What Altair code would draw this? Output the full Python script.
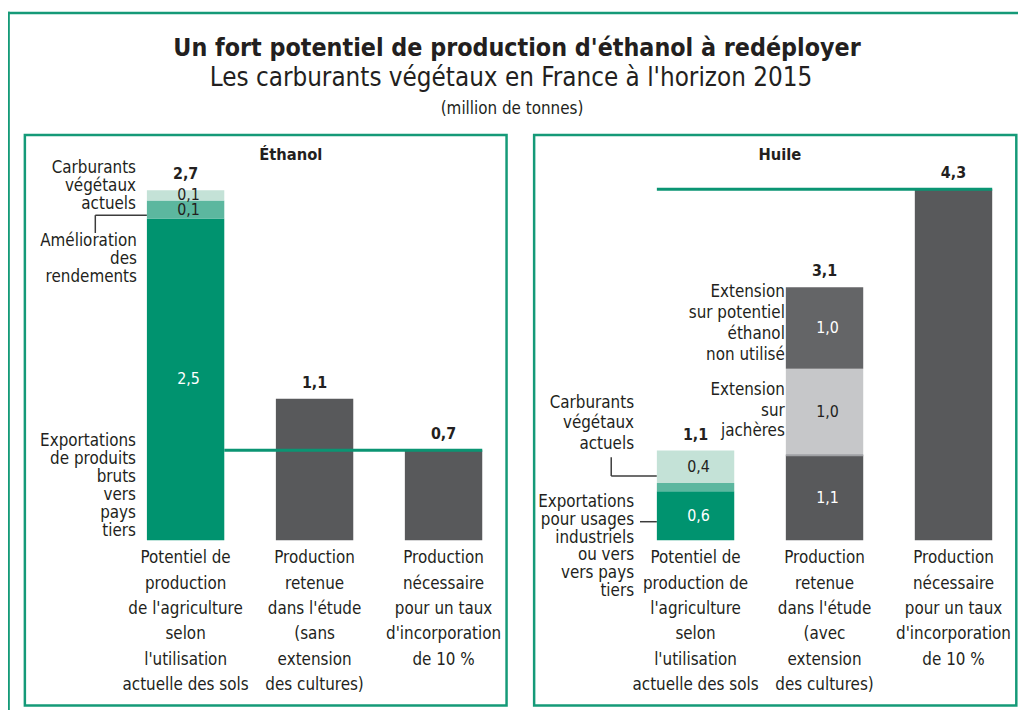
import altair as alt
import pandas as pd

FONT = "DejaVu Sans Condensed"
INK = "#231f20"
FRAME = "#159a78"
GREEN_LINE = "#0b9573"

# ---------------- data ----------------
title = "Un fort potentiel de production d'éthanol à redéployer"
subtitle = "Les carburants végétaux en France à l'horizon 2015"
unit = "(million de tonnes)"

eth_title = "Éthanol"
eth_cats = [
    "Potentiel de\nproduction\nde l'agriculture\nselon\nl'utilisation\nactuelle des sols",
    "Production\nretenue\ndans l'étude\n(sans\nextension\ndes cultures)",
    "Production\nnécessaire\npour un taux\nd'incorporation\nde 10 %",
]
eth_seg_bar = [0, 0, 0, 1, 2]
eth_seg_name = ["Exportations", "Amélioration des rendements", "Carburants végétaux actuels",
                "Production", "Production"]
eth_seg_value = [2.5, 0.14, 0.08, 1.1, 0.7]
eth_seg_label = ["2,5", "0,1", "0,1", "", ""]
eth_total_label = ["2,7", "1,1", "0,7"]

oil_title = "Huile"
oil_cats = [
    "Potentiel de\nproduction de\nl'agriculture\nselon\nl'utilisation\nactuelle des sols",
    "Production\nretenue\ndans l'étude\n(avec\nextension\ndes cultures)",
    "Production \nnécessaire\npour un taux\nd'incorporation\nde 10 %",
]
oil_seg_bar = [0, 0, 0, 1, 1, 1, 2]
oil_seg_name = ["Exportations", "Amélioration des rendements", "Carburants végétaux actuels",
                "Production", "Extension sur jachères",
                "Extension sur potentiel éthanol non utilisé", "Production"]
oil_seg_value = [0.6, 0.1, 0.4, 1.04, 1.06, 1.0, 4.3]
oil_seg_label = ["0,6", "", "0,4", "1,1", "1,0", "1,0", ""]
oil_total_label = ["1,1", "3,1", "4,3"]

# ---------------- styles ----------------
seg_domain = ["Exportations", "Amélioration des rendements", "Carburants végétaux actuels",
              "Production", "Extension sur jachères", "Extension sur potentiel éthanol non utilisé"]
seg_range = ["#00936f", "#5cb79f", "#c4e2d7", "#58595b", "#c6c7c9", "#646567"]
seg_tone = {"Exportations": "light", "Amélioration des rendements": "dark",
            "Carburants végétaux actuels": "dark", "Production": "light",
            "Extension sur jachères": "dark",
            "Extension sur potentiel éthanol non utilisé": "light"}
cscale = alt.Scale(domain=seg_domain, range=seg_range)


def seg_table(cats, bars, names, values, labels):
    rows, top = [], {}
    for b, n, v, l in zip(bars, names, values, labels):
        s = top.get(b, 0.0)
        e = s + v
        top[b] = e
        rows.append(dict(cat=cats[b], segment=n, start=s, end=e, mid=(s + e) / 2,
                         label=l, tone=seg_tone[n]))
    seg = pd.DataFrame(rows)
    tot = pd.DataFrame(dict(cat=cats, total=[top[i] for i in range(len(cats))]))
    return seg, tot


def panel(cats, bars, names, values, labels, totals, x_range, y_max, y_base, ppu,
          rule_from, rule_to):
    seg, tot = seg_table(cats, bars, names, values, labels)
    tot["label"] = totals
    xs = alt.Scale(domain=cats, range=x_range, paddingInner=0.4, paddingOuter=0)
    ys = alt.Scale(domain=[0, y_max], range=[y_base, y_base - y_max * ppu], nice=False, zero=False)
    X = alt.X("cat:N", scale=xs, axis=None)
    layers = []
    layers.append(alt.Chart(seg).mark_bar().encode(
        x=X, y=alt.Y("start:Q", scale=ys, axis=None), y2="end:Q",
        color=alt.Color("segment:N", scale=cscale, legend=None)))
    # thin separator between stacked grey segments
    layers.append(alt.Chart(seg).transform_filter(alt.datum.segment == "Extension sur jachères")
                  .mark_rule(color="#9fa1a4", strokeWidth=2).encode(
        x=alt.X("cat:N", scale=xs, axis=None, bandPosition=0),
        x2=alt.X2("cat:N", bandPosition=1),
        y=alt.Y("start:Q", scale=ys, axis=None)))
    # green reference line at the level of the required production
    rule_df = pd.DataFrame(dict(a=[cats[0]], b=[cats[2]], level=[tot["total"].iloc[2]]))
    layers.append(alt.Chart(rule_df).mark_rule(color=GREEN_LINE, strokeWidth=3).encode(
        x=alt.X("a:N", scale=xs, axis=None, bandPosition=rule_from),
        x2=alt.X2("b:N", bandPosition=rule_to),
        y=alt.Y("level:Q", scale=ys, axis=None)))
    # totals
    layers.append(alt.Chart(tot).mark_text(font=FONT, fontWeight="bold", fontSize=16, color=INK,
                                           baseline="alphabetic", dy=-11).encode(
        x=X, y=alt.Y("total:Q", scale=ys, axis=None), text="label:N"))
    # inner labels
    for tone, col in (("light", "white"), ("dark", INK)):
        layers.append(alt.Chart(seg).transform_filter(
            (alt.datum.tone == tone) & (alt.datum.label != "")).mark_text(
            font=FONT, fontSize=16, color=col, baseline="middle", dx=3).encode(
            x=X, y=alt.Y("mid:Q", scale=ys, axis=None), text="label:N"))
    # category labels
    layers.append(alt.Chart(pd.DataFrame(dict(cat=cats))).mark_text(
        font=FONT, fontSize=17, color=INK, baseline="alphabetic", align="center",
        lineBreak="\n", lineHeight=25.5).encode(x=X, y=alt.value(557), text="cat:N"))
    return alt.layer(*layers)


left = panel(eth_cats, eth_seg_bar, eth_seg_name, eth_seg_value, eth_seg_label, eth_total_label,
             [140, 478], 3, 533.7, 129.7, 1, 1)
right = panel(oil_cats, oil_seg_bar, oil_seg_name, oil_seg_value, oil_seg_label, oil_total_label,
              [654, 992], 5, 533.7, 82.3, 0, 1)

one = pd.DataFrame({"k": [0]})


def txt(s, x, y, size, weight="normal", align="center", lh=18):
    return alt.Chart(pd.DataFrame({"t": [s]})).mark_text(
        font=FONT, fontSize=size, fontWeight=weight, color=INK, align=align,
        baseline="alphabetic", lineBreak="\n", lineHeight=lh).encode(
        x=alt.value(x), y=alt.value(y), text="t:N")


def frame(x1, x2, y1, y2):
    return alt.Chart(one).mark_rect(fillOpacity=0, stroke=FRAME, strokeWidth=2.5).encode(
        x=alt.value(x1), x2=alt.value(x2), y=alt.value(y1), y2=alt.value(y2))


def hline(x1, x2, y, color=FRAME, w=2.5):
    return alt.Chart(one).mark_rule(color=color, strokeWidth=w).encode(
        x=alt.value(x1), x2=alt.value(x2), y=alt.value(y))


def vline(x, y1, y2, color=FRAME, w=2.5):
    return alt.Chart(one).mark_rule(color=color, strokeWidth=w).encode(
        x=alt.value(x), y=alt.value(y1), y2=alt.value(y2))


LEAD = "#3c3c3c"
decor = [
    vline(0.6, 1, 714), hline(0, 1018, 2.3),
    frame(17, 502.5, 125.3, 700.3), frame(530.3, 1016.3, 125.3, 700.3),
    txt(title, 513, 46, 25, "bold"),
    txt(subtitle, 507, 76, 26),
    txt(unit, 508, 104, 17),
    txt(eth_title, 285, 150, 16.5, "bold"),
    txt(oil_title, 778, 150, 16.5, "bold"),
    # left annotations
    txt("Carburants\nvégétaux\nactuels", 129, 164, 17, align="right"),
    txt("Amélioration\ndes\nrendements", 130, 237, 17, align="right"),
    txt("Exportations\nde produits\nbruts\nvers\npays\ntiers", 129, 439, 17, align="right"),
    hline(88, 140, 206, LEAD, 1.5), vline(88, 206, 224, LEAD, 1.5),
    # right annotations
    txt("Extension\nsur potentiel\néthanol\nnon utilisé", 783, 289, 17, align="right", lh=21),
    txt("Extension\nsur\njachères", 783, 387, 17, align="right", lh=21),
    txt("Carburants\nvégétaux\nactuels", 631, 400, 17, align="right", lh=21),
    txt("Exportations\npour usages\nindustriels\nou vers\nvers pays\ntiers", 631, 500, 17,
        align="right", lh=18),
    vline(608, 450, 469, LEAD, 1.5), hline(608, 654, 469, LEAD, 1.5),
    hline(637, 654, 515, LEAD, 1.5),
]

chart = alt.layer(*decor, left, right).resolve_scale(
    x="independent", y="independent"
).properties(
    width=1018, height=702, padding=0,
    autosize=alt.AutoSizeParams(type="none"),
).configure_view(stroke=None)

chart.save("out.html", embed_options={"renderer": "svg", "actions": False})
